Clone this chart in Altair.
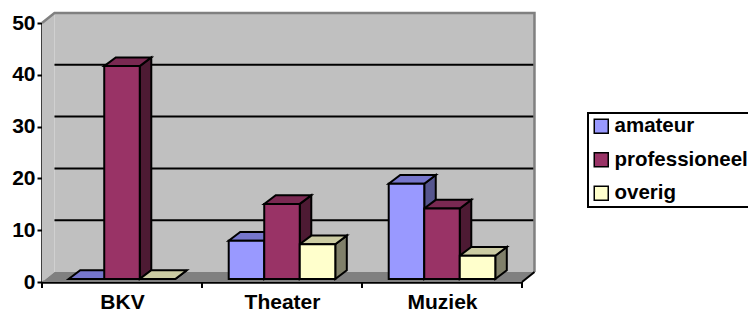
import json
import altair as alt
import pandas as pd

# ---- data ----
categories = ["BKV", "Theater", "Muziek"]
series = ["amateur", "professioneel", "overig"]
amateur = [0, 7.4, 18.4]
professioneel = [41.1, 14.5, 13.6]
overig = [0, 6.7, 4.5]
y_ticks = [0, 10, 20, 30, 40, 50]

# ---- styling ----
front_colors = ["#9999FF", "#993366", "#FFFFCC"]
top_colors = ["#7676CC", "#7A2952", "#CCCCA3"]
side_colors = ["#55558E", "#4D1A33", "#80806A"]
FONT = "Liberation Sans, Arial, sans-serif"
BW, DX, DV, BASE = 0.222, 0.072, 1.68, 0.58      # bar width / depth (x, y) / base lift
DXW, DVW = 0.078, 1.93                             # wall depth (x, y)
XMIN, XMAX = -0.5, len(categories) - 0.5
YMAX = y_ticks[-1]

xs = alt.Scale(domain=[XMIN, XMAX], nice=False, zero=False)
ys = alt.Scale(domain=[0, YMAX], nice=False, zero=False)

# ---- derived geometry (from the arrays above) ----
values = [amateur, professioneel, overig]
fronts, sides, tops = [], [], []
for si, s in enumerate(series):
    for ci, c in enumerate(categories):
        v = values[si][ci]
        L = ci - 1.5 * BW + si * BW
        R = L + BW
        lo, hi = BASE, BASE + v
        bid = f"{s}-{c}"
        fronts.append(dict(series=s, category=c, x=L, x2=R, y=lo, y2=hi))
        sides += [dict(bar=bid, fill=side_colors[si], x=R, y=hi, y2=lo),
                  dict(bar=bid, fill=side_colors[si], x=R + DX, y=hi + DV, y2=lo + DV)]
        tops += [dict(bar=bid, fill=top_colors[si], x=L, y=hi, y2=hi),
                 dict(bar=bid, fill=top_colors[si], x=L + DX, y=hi, y2=hi + DV),
                 dict(bar=bid, fill=top_colors[si], x=R, y=hi, y2=hi + DV),
                 dict(bar=bid, fill=top_colors[si], x=R + DX, y=hi + DV, y2=hi + DV)]

left_wall = pd.DataFrame([dict(x=XMIN, y=YMAX, y2=0), dict(x=XMIN + DXW, y=YMAX + DVW, y2=DVW)])
back_wall = pd.DataFrame([dict(x=XMIN + DXW, x2=XMAX + DXW, y=DVW, y2=YMAX + DVW)])
floor = pd.DataFrame([dict(x=XMIN, y=0, y2=0), dict(x=XMIN + DXW, y=0, y2=DVW),
                      dict(x=XMAX, y=0, y2=DVW), dict(x=XMAX + DXW, y=DVW, y2=DVW)])
grid = pd.DataFrame([dict(x=XMIN + DXW, x2=XMAX + DXW, y=t + DVW) for t in y_ticks[1:-1]])
edge = pd.DataFrame([dict(o=0, x=XMIN, y=YMAX), dict(o=1, x=XMIN + DXW, y=YMAX + DVW),
                     dict(o=2, x=XMAX + DXW, y=YMAX + DVW), dict(o=3, x=XMAX + DXW, y=DVW)])
floor_edge = pd.DataFrame([dict(o=0, x=XMAX, y=0), dict(o=1, x=XMAX + DXW, y=DVW)])
xticks = pd.DataFrame([dict(x=b - 0.5, y0=0) for b in range(len(categories) + 1)])

label_expr = json.dumps(categories) + "[datum.value]"

x_axis = alt.Axis(values=list(range(len(categories))), labelExpr=label_expr, ticks=False,
                  labelPadding=9, title=None, labelAngle=0)
y_axis = alt.Axis(values=y_ticks, tickSize=5, labelPadding=2, title=None)

X = lambda: alt.X("x:Q", scale=xs, axis=x_axis)
Y = lambda f="y:Q": alt.Y(f, scale=ys, axis=y_axis)

l_left = alt.Chart(left_wall).mark_area(orient="vertical", color="#C0C0C0").encode(
    x=X(), y=Y(), y2="y2:Q")
l_back = alt.Chart(back_wall).mark_rect(color="#C0C0C0").encode(
    x=X(), x2="x2:Q", y=Y(), y2="y2:Q")
l_floor = alt.Chart(floor).mark_area(orient="vertical", color="#808080").encode(
    x=X(), y=Y(), y2="y2:Q")
l_grid = alt.Chart(grid).mark_rule(color="black", strokeWidth=2).encode(
    x=X(), x2="x2:Q", y=Y())
l_edge = alt.Chart(edge).mark_line(color="#808080", strokeWidth=2.5).encode(
    x=X(), y=Y(), order="o:Q")
l_fedge = alt.Chart(floor_edge).mark_line(color="black", strokeWidth=2).encode(
    x=X(), y=Y(), order="o:Q")
l_sides = alt.Chart(pd.DataFrame(sides)).mark_area(orient="vertical", stroke="black", strokeWidth=2,
                                                   strokeJoin="miter").encode(
    x=X(), y=Y(), y2="y2:Q", fill=alt.Fill("fill:N", scale=None), detail="bar:N")
l_tops = alt.Chart(pd.DataFrame(tops)).mark_area(orient="vertical", stroke="black", strokeWidth=2,
                                                 strokeJoin="miter").encode(
    x=X(), y=Y(), y2="y2:Q", fill=alt.Fill("fill:N", scale=None), detail="bar:N")
l_fronts = alt.Chart(pd.DataFrame(fronts)).mark_rect(stroke="black", strokeWidth=2).encode(
    x=X(), x2="x2:Q", y=Y(), y2="y2:Q",
    color=alt.Color("series:N", scale=alt.Scale(domain=series, range=front_colors),
                    sort=series,
                    legend=alt.Legend(title=None, orient="none", legendX=546, legendY=90,
                                      symbolType="square", symbolSize=196,
                                      symbolStrokeColor="black", symbolStrokeWidth=1.5,
                                      labelFont=FONT, labelFontSize=20.5, labelFontWeight="bold",
                                      labelColor="black", strokeColor="black", fillColor="white",
                                      padding=3, rowPadding=12.5, labelOffset=3)))
l_ticks = alt.Chart(xticks).mark_rule(color="black", strokeWidth=2, y2Offset=6).encode(
    x=X(), y=Y("y0:Q"), y2="y0:Q")

chart = alt.layer(l_left, l_back, l_floor, l_grid, l_edge, l_fedge, l_sides, l_tops, l_fronts, l_ticks).properties(
    width=480, height=259,
    autosize=alt.AutoSizeParams(type="none"),
    padding={"left": 34, "top": 15, "right": 226, "bottom": 31},
    background="white",
).configure_view(strokeWidth=0).configure_axis(
    labelFont=FONT, labelFontSize=21, labelFontWeight="bold", labelColor="black",
    domainColor="black", domainWidth=2.5, tickColor="black", tickWidth=2, grid=False, zindex=1,
).configure_legend(strokeWidth=2)

chart.save("out.html", embed_options={"renderer": "svg", "actions": False})
